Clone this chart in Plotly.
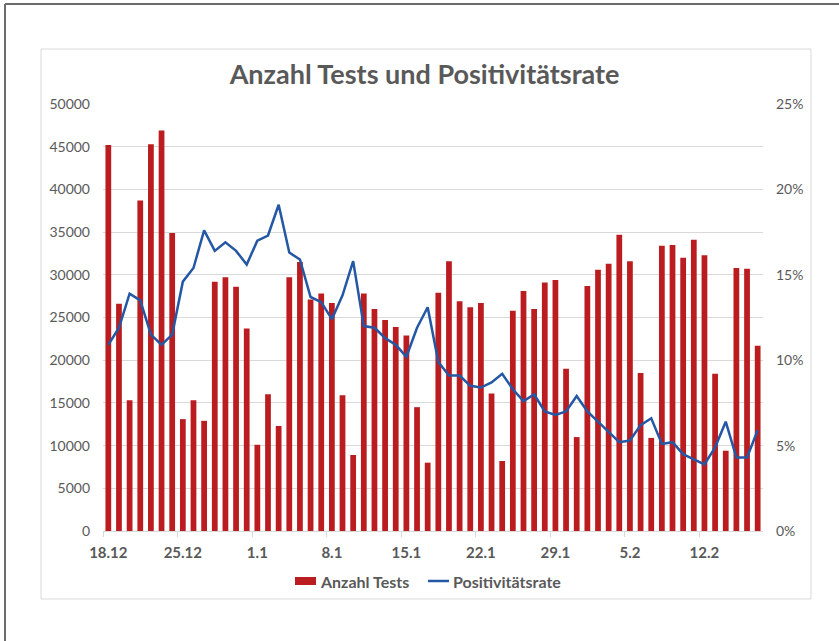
import pandas as pd
import plotly.graph_objects as go

# daily values 18.12 - 17.2
days = [d.strftime("%-d.%-m") for d in pd.date_range("2020-12-18", "2021-02-17")]
week_labels = ["18.12", "25.12", "1.1", "8.1", "15.1", "22.1", "29.1", "5.2", "12.2"]

tests = [45200, 26600, 15300, 38700, 45300, 46900, 34900, 13100, 15300, 12900,
         29200, 29700, 28600, 23700, 10100, 16000, 12300, 29700, 31500, 27100,
         27800, 26700, 15900, 8900, 27800, 26000, 24700, 23900, 22900, 14500,
         8000, 27900, 31600, 26900, 26200, 26700, 16100, 8200, 25800, 28100,
         26000, 29100, 29400, 19000, 11000, 28700, 30600, 31300, 34700, 31600,
         18500, 10900, 33400, 33500, 32000, 34100, 32300, 18400, 9400, 30800,
         30700, 21700]

rate = [10.9, 11.9, 13.9, 13.5, 11.5, 10.9, 11.5, 14.6, 15.4, 17.6,
        16.4, 16.9, 16.4, 15.6, 17.0, 17.3, 19.1, 16.3, 15.9, 13.7,
        13.4, 12.4, 13.8, 15.8, 12.0, 11.9, 11.3, 10.9, 10.2, 11.9,
        13.1, 9.9, 9.1, 9.1, 8.5, 8.4, 8.7, 9.2, 8.3, 7.6,
        8.0, 7.0, 6.8, 7.0, 7.9, 7.0, 6.4, 5.8, 5.2, 5.3,
        6.2, 6.6, 5.1, 5.2, 4.5, 4.2, 3.9, 4.9, 6.4, 4.3,
        4.3, 5.9]

grey = "#595959"
red = "#BA1C1F"
blue = "#2457A4"
font = "Lato, Carlito, sans-serif"

W, H = 839, 641
L, R, T, B = 103, 76, 104, 110


def px(x):  # pixel -> paper x
    return (x - L) / (W - L - R)


def py(y):  # pixel -> paper y
    return (H - B - y) / (H - T - B)


fig = go.Figure()
fig.add_trace(go.Bar(x=days, y=tests, name="Anzahl Tests", marker_color=red,
                     marker_line_width=0))
fig.add_trace(go.Scatter(x=days, y=[r / 100 for r in rate], name="Positivitätsrate",
                         mode="lines", line=dict(color=blue, width=2.5), yaxis="y2"))
# invisible trace only to carry the boundary tick marks
fig.add_trace(go.Scatter(x=[-0.5, len(days) - 0.5], y=[0, 0], xaxis="x2", mode="lines",
                         line=dict(width=0), showlegend=False, hoverinfo="skip"))

fig.update_layout(
    width=W, height=H,
    margin=dict(l=L, r=R, t=T, b=B),
    paper_bgcolor="white", plot_bgcolor="white",
    font=dict(family=font, color=grey),
    title=dict(text="<b>Anzahl Tests und Positivitätsrate</b>", x=0.506, xanchor="center",
               y=1 - 75 / H, yanchor="middle", font=dict(size=27, color=grey)),
    bargap=0.46,
    showlegend=False,
    xaxis=dict(type="category", range=[-0.5, len(days) - 0.5], tickmode="array",
               tickvals=week_labels, ticktext=week_labels, ticks="",
               tickfont=dict(size=15, color=grey, weight="bold"), ticklabelstandoff=8,
               showgrid=False, showline=True, linecolor="#d9d9d9", linewidth=1),
    xaxis2=dict(overlaying="x", range=[-0.5, len(days) - 0.5],
                tickmode="array", tickvals=[-0.5 + 7 * k for k in range(10)],
                ticks="outside", ticklen=5, tickcolor="#d9d9d9", showticklabels=False,
                showgrid=False, zeroline=False),
    yaxis=dict(range=[0, 50000], dtick=5000, tickformat="d", showgrid=True,
               gridcolor="#d9d9d9", zeroline=False, tickfont=dict(size=14, color=grey),
               ticklabelstandoff=12),
    yaxis2=dict(range=[0, 0.25], dtick=0.05, tickformat=".0%", overlaying="y", side="right",
                showgrid=False, zeroline=False, tickfont=dict(size=14, color=grey),
                ticklabelstandoff=12),
)

# legend drawn by hand (wide bar swatch, tight spacing)
fig.add_shape(type="rect", xref="paper", yref="paper", x0=px(295), x1=px(316),
              y0=py(585), y1=py(577), fillcolor=red, line_width=0)
fig.add_shape(type="line", xref="paper", yref="paper", x0=px(428), x1=px(449),
              y0=py(581), y1=py(581), line=dict(color=blue, width=2.5))
fig.add_annotation(text="<b>Anzahl Tests</b>", xref="paper", yref="paper", x=px(318),
                   y=py(581), xanchor="left", yanchor="middle", showarrow=False,
                   font=dict(size=16, color=grey))
fig.add_annotation(text="<b>Positivitätsrate</b>", xref="paper", yref="paper", x=px(451),
                   y=py(581), xanchor="left", yanchor="middle", showarrow=False,
                   font=dict(size=16, color=grey))

# chart frame and outer page border
fig.add_shape(type="rect", xref="paper", yref="paper", x0=px(41), x1=px(811),
              y0=py(599), y1=py(49), line=dict(color="#d9d9d9", width=1), layer="below")
fig.add_shape(type="line", xref="paper", yref="paper", x0=px(5), x1=px(5),
              y0=py(H + 2), y1=py(4), line=dict(color="#6b6b6b", width=2))
fig.add_shape(type="line", xref="paper", yref="paper", x0=px(5), x1=px(W + 2),
              y0=py(4), y1=py(4), line=dict(color="#6b6b6b", width=2))

fig.write_html("out.html", config={"displayModeBar": False},
               post_script="document.body.style.margin='0';")
